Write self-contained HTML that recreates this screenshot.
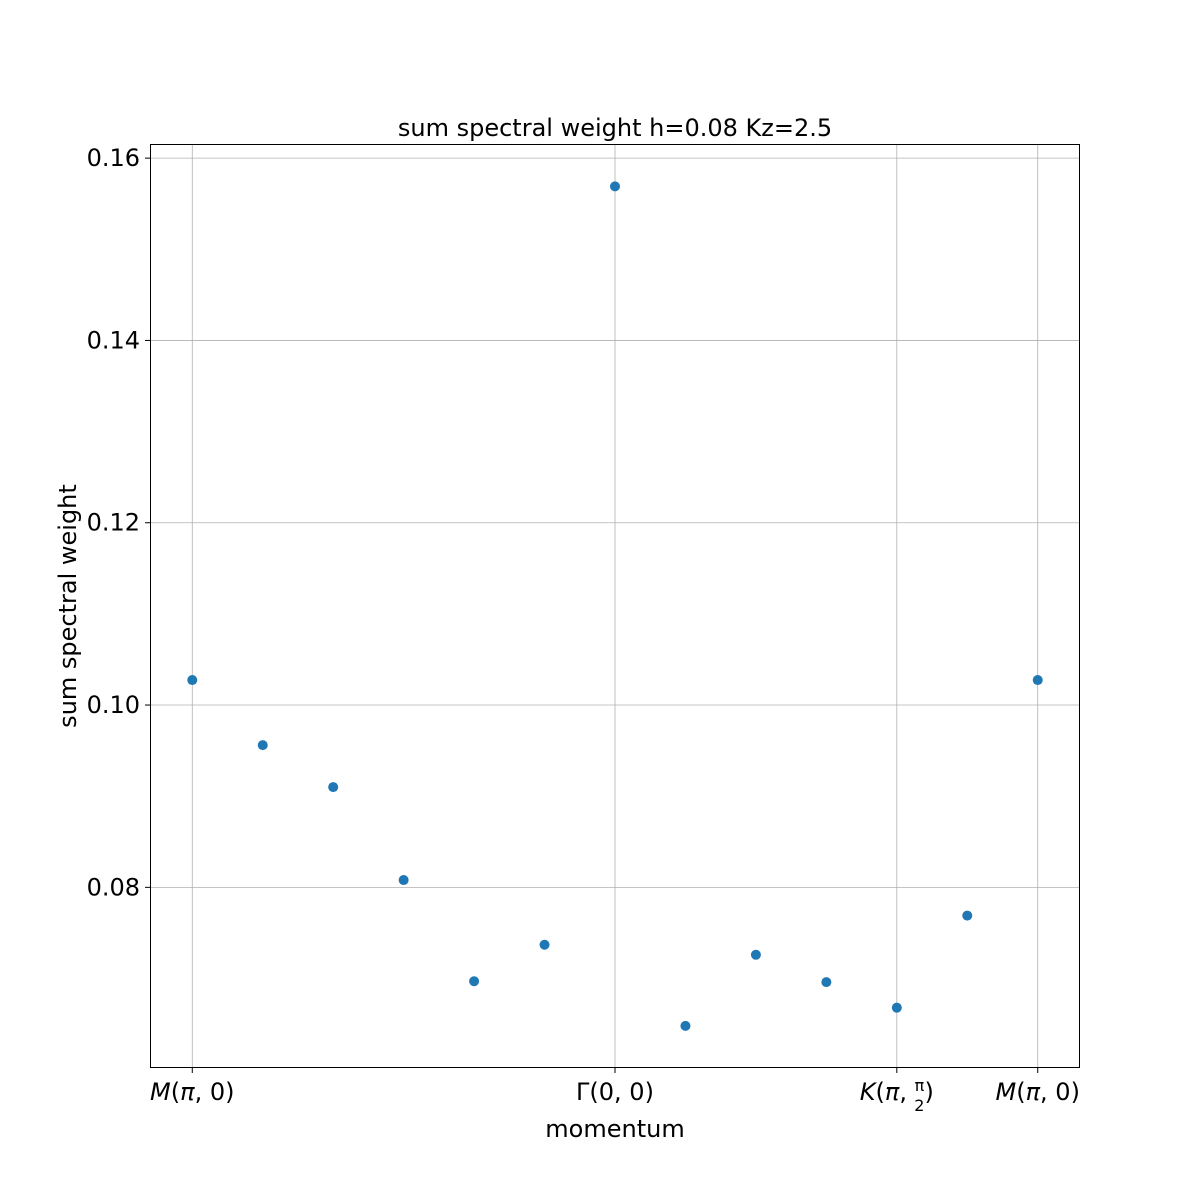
<!DOCTYPE html>
<html><head><meta charset="utf-8"><style>
body{margin:0;background:#fff;overflow:hidden}
svg{display:block}
svg text{font-family:"DejaVu Sans","Liberation Sans",sans-serif;fill:#000}
</style></head><body>
<svg id="chart" width="1200" height="1200" viewBox="0 0 1200 1200" xmlns="http://www.w3.org/2000/svg">
<rect width="1200" height="1200" fill="#fff"/>
<text x="615" y="136" font-size="24" text-anchor="middle">sum spectral weight h=0.08 Kz=2.5</text>
<g id="grid"></g>
<g id="ticks"></g>
<g id="pts"></g>
<rect x="150.5" y="144.5" width="929" height="923" fill="none" stroke="#000" stroke-width="1"/>
<text x="615" y="1137" font-size="24" text-anchor="middle">momentum</text>
<text transform="translate(76,606) rotate(-90)" font-size="24" text-anchor="middle">sum spectral weight</text>
</svg>
<script>
const values=[0.10274,0.0956,0.0910,0.0808,0.0697,0.0737,0.1569,0.0648,0.0726,0.0696,0.0668,0.0769,0.10274];
const yTicks=[0.08,0.10,0.12,0.14,0.16];
const yTickLabels=["0.08","0.10","0.12","0.14","0.16"];
const xTickIdx=[0,6,10,12];
const NS="http://www.w3.org/2000/svg";
const L=150,R=1080,T=144,B=1068;
const x0=-0.6,x1=12.6,y0=0.06018,y1=0.16155;
const X=i=>L+(i-x0)/(x1-x0)*(R-L);
const Y=v=>B-(v-y0)/(y1-y0)*(B-T);
function mk(t,a,p){const e=document.createElementNS(NS,t);for(const k in a)e.setAttribute(k,a[k]);p.appendChild(e);return e;}
const g=document.getElementById('grid'),tk=document.getElementById('ticks'),pts=document.getElementById('pts');
yTicks.forEach((v,i)=>{const y=Y(v);
const gl=mk('line',{x1:L,x2:R,y1:y,y2:y,stroke:'#b0b0b0','stroke-width':0.8},g);


mk('line',{x1:L-5,x2:L,y1:y,y2:y,stroke:'#000'},tk);
const t=mk('text',{x:L-10,y:y+8,'font-size':24,'text-anchor':'end'},tk);t.textContent=yTickLabels[i];

});
const xLabels=['<tspan font-style="italic">M</tspan>(<tspan font-style="italic">π</tspan>, 0)','Γ(0, 0)','<tspan font-style="italic">K</tspan>(<tspan font-style="italic">π</tspan>, <tspan font-size="16" dy="-9">π</tspan><tspan font-size="16" dx="-10" dy="20">2</tspan><tspan dy="-11">)</tspan>','<tspan font-style="italic">M</tspan>(<tspan font-style="italic">π</tspan>, 0)'];
xTickIdx.forEach((i,k)=>{const x=X(i);
const gl=mk('line',{x1:x,x2:x,y1:T,y2:B,stroke:'#b0b0b0','stroke-width':0.8},g);


mk('line',{x1:x,x2:x,y1:B,y2:B+5,stroke:'#000'},tk);
const t=mk('text',{x:x,y:B+32,'font-size':24,'text-anchor':'middle'},tk);t.innerHTML=xLabels[k];

});
values.forEach((v,i)=>{const c=mk('circle',{cx:X(i),cy:Y(v),r:5,fill:'#1f77b4'},pts);

});
</script>
</body></html>
